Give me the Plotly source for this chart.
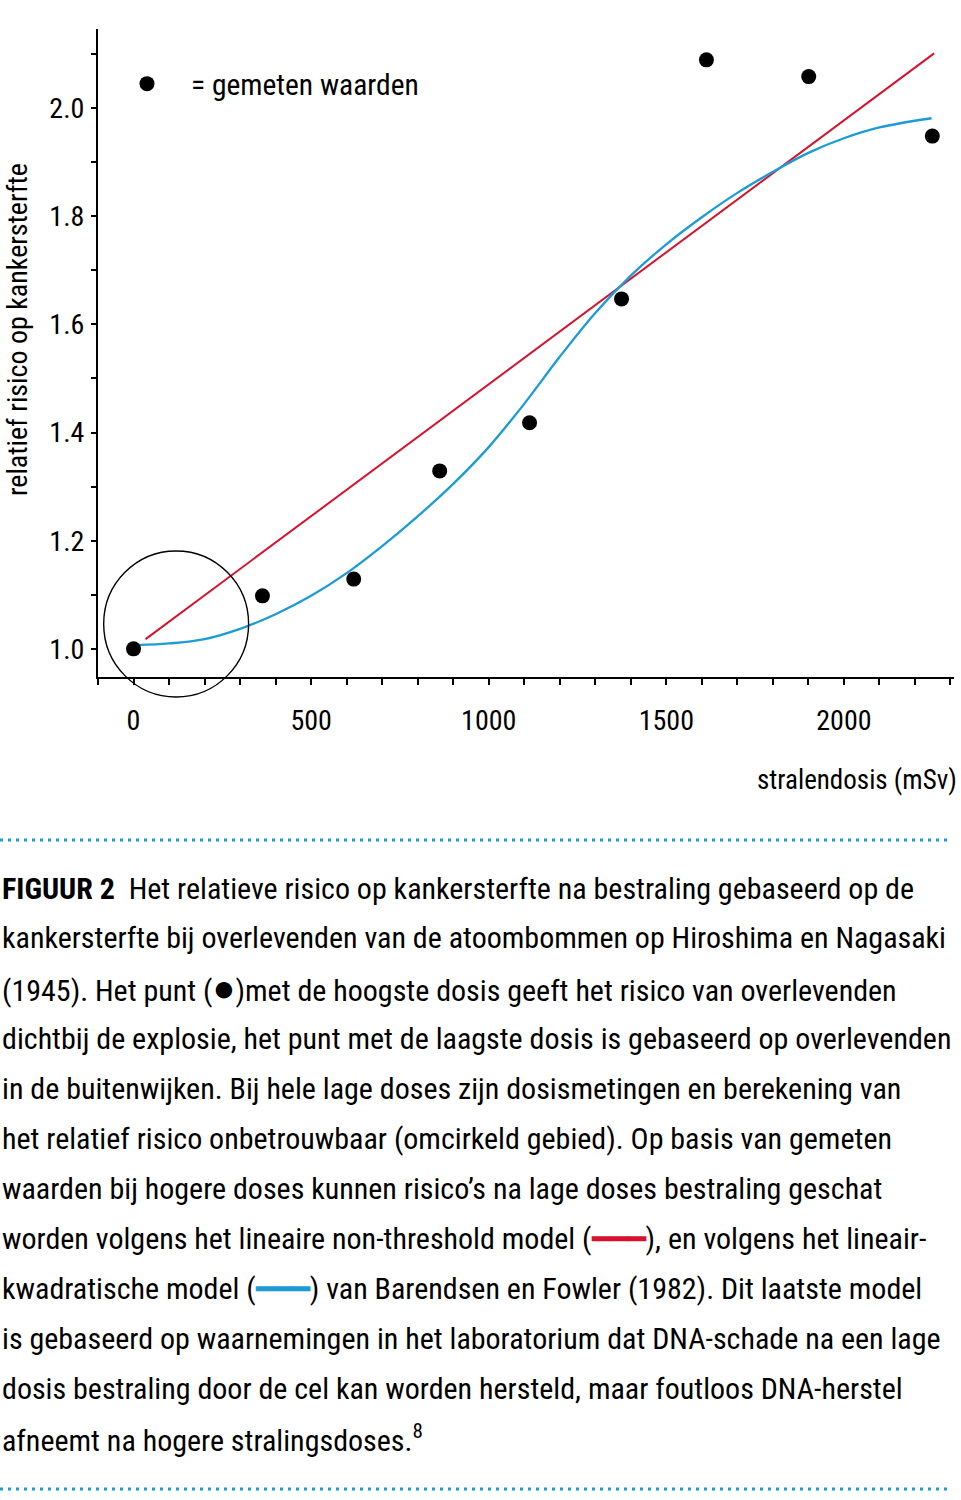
import plotly.graph_objects as go

# ---- data ----
dose_measured = [0, 363, 620, 862, 1115, 1374, 1613, 1901, 2249]
rr_measured = [1.00, 1.098, 1.129, 1.329, 1.418, 1.647, 2.089, 2.058, 1.948]

lnt_dose = [34, 2254]
lnt_rr = [1.018, 2.101]

lq_dose = [8, 100, 200, 300, 400, 500, 600, 700, 800, 900, 1000, 1100, 1200,
           1300, 1400, 1500, 1600, 1700, 1800, 1900, 2000, 2100, 2247]
lq_rr = [1.007, 1.010, 1.018, 1.037, 1.064, 1.098, 1.140, 1.190, 1.245, 1.305,
         1.373, 1.453, 1.540, 1.621, 1.690, 1.748, 1.798, 1.843, 1.882, 1.917,
         1.944, 1.964, 1.981]

x_tickvals = [0, 500, 1000, 1500, 2000]
x_ticktext = ["0", "500", "1000", "1500", "2000"]
x_minor_step = 100
y_tickvals = [1.0, 1.2, 1.4, 1.6, 1.8, 2.0]
y_ticktext = ["1.0", "1.2", "1.4", "1.6", "1.8", "2.0"]
y_minor_step = 0.1

legend_label = "= gemeten waarden"
x_title = "stralendosis (mSv)"
y_title = "relatief risico op kankersterfte"

RED = "#d5132e"
BLUE = "#1c9bd7"

caption_lines = [
    "<b>FIGUUR 2</b>  Het relatieve risico op kankersterfte na bestraling gebaseerd op de",
    "kankersterfte bij overlevenden van de atoombommen op Hiroshima en Nagasaki",
    "(1945). Het punt (<span style='font-size:38px'>●</span>)met de hoogste dosis geeft het risico van overlevenden",
    "dichtbij de explosie, het punt met de laagste dosis is gebaseerd op overlevenden",
    "in de buitenwijken. Bij hele lage doses zijn dosismetingen en berekening van",
    "het relatief risico onbetrouwbaar (omcirkeld gebied). Op basis van gemeten",
    "waarden bij hogere doses kunnen risico’s na lage doses bestraling geschat",
    "worden volgens het lineaire non-threshold model (<span style='color:%s'>━━━</span>), en volgens het lineair-" % RED,
    "kwadratische model (<span style='color:%s'>━━━</span>) van Barendsen en Fowler (1982). Dit laatste model" % BLUE,
    "is gebaseerd op waarnemingen in het laboratorium dat DNA-schade na een lage",
    "dosis bestraling door de cel kan worden hersteld, maar foutloos DNA-herstel",
    "afneemt na hogere stralingsdoses.<sup>8</sup>",
]

# ---- layout geometry ----
W, H = 961, 1500
ML, MR, MT, MB = 98, 7, 29, 823
XR = [-100, 2310]
YR = [0.948, 2.146]
PH = H - MT - MB
FONT = "Roboto Condensed, Liberation Sans, sans-serif"


def py(pix):
    """pixel row -> paper y"""
    return (H - MB - pix) / PH


def pxx(pix):
    return (pix - ML) / (W - ML - MR)


fig = go.Figure()
fig.add_trace(go.Scatter(x=lnt_dose, y=lnt_rr, mode="lines",
                         line=dict(color=RED, width=2), showlegend=False))
fig.add_trace(go.Scatter(x=lq_dose, y=lq_rr, mode="lines", line_shape="spline",
                         line=dict(color=BLUE, width=2.3), showlegend=False))
fig.add_trace(go.Scatter(x=dose_measured, y=rr_measured, mode="markers",
                         marker=dict(color="black", size=15),
                         name=legend_label, showlegend=True, cliponaxis=False))

# circle around the low-dose region (domain refs so it is not clipped)
cx, cy, rx, ry = 120, 1.046, 204, 0.135
fig.add_shape(type="circle", xref="x domain", yref="y domain",
              x0=(cx - rx - XR[0]) / (XR[1] - XR[0]), x1=(cx + rx - XR[0]) / (XR[1] - XR[0]),
              y0=(cy - ry - YR[0]) / (YR[1] - YR[0]), y1=(cy + ry - YR[0]) / (YR[1] - YR[0]),
              line=dict(color="black", width=1.4))

# dotted separators
for row in (840, 1489):
    fig.add_shape(type="line", xref="paper", yref="paper",
                  x0=pxx(0), x1=pxx(952), y0=py(row), y1=py(row),
                  line=dict(color=BLUE, width=3, dash="3px,5px"))

ann = []
ann.append(dict(text=y_title, x=pxx(18), y=py(330), xref="paper", yref="paper",
                textangle=-90, showarrow=False, xanchor="center", yanchor="middle",
                font=dict(size=28, color="black", family=FONT)))
ann.append(dict(text=x_title, x=pxx(959), y=py(780), xref="paper", yref="paper",
                showarrow=False, xanchor="right", yanchor="middle",
                font=dict(size=27, color="black", family=FONT)))
for i, line in enumerate(caption_lines):
    ann.append(dict(text=line, x=pxx(0), y=py(888 + 50 * i), xref="paper", yref="paper",
                    showarrow=False, xanchor="left", yanchor="middle", align="left",
                    font=dict(size=30, color="black", family=FONT)))

fig.update_layout(
    width=W, height=H,
    margin=dict(l=ML, r=MR, t=MT, b=MB),
    paper_bgcolor="white", plot_bgcolor="white",
    font=dict(family=FONT, size=27, color="black"),
    annotations=ann,
    legend=dict(x=pxx(103), y=py(58), xanchor="left", yanchor="top",
                bgcolor="rgba(0,0,0,0)", font=dict(size=29.5, family=FONT),
                itemwidth=78),
)
fig.update_xaxes(range=XR, showgrid=False, zeroline=False, showline=True,
                 linecolor="black", linewidth=2, ticks="outside", ticklen=6,
                 tickwidth=1.5, tickcolor="black", tickvals=x_tickvals,
                 ticktext=x_ticktext, tickfont=dict(size=28, family=FONT),
                 ticklabelstandoff=11,
                 minor=dict(tick0=0, dtick=x_minor_step, ticks="outside", ticklen=6,
                            tickwidth=1.5, tickcolor="black", showgrid=False))
fig.update_yaxes(range=YR, showgrid=False, zeroline=False, showline=True,
                 linecolor="black", linewidth=2, ticks="outside", ticklen=5,
                 tickwidth=1.5, tickcolor="black", tickvals=y_tickvals,
                 ticktext=y_ticktext, tickfont=dict(size=28, family=FONT),
                 ticklabelstandoff=1,
                 minor=dict(tick0=1.0, dtick=y_minor_step, ticks="outside", ticklen=5,
                            tickwidth=1.5, tickcolor="black", showgrid=False))

fig.write_html("out.html", config={"displayModeBar": False},
               post_script="document.body.style.margin='0px';")
